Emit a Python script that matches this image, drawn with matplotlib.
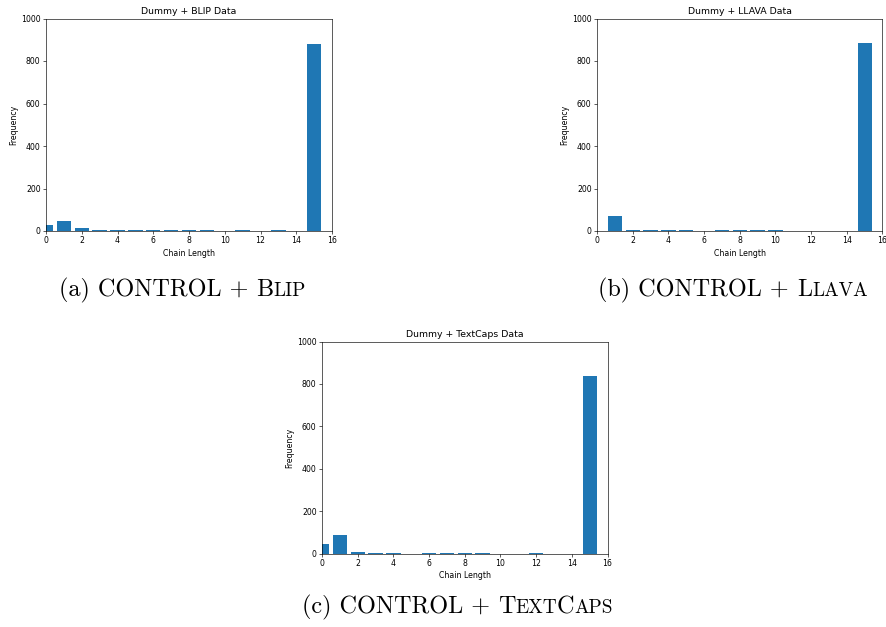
import matplotlib
matplotlib.use("Agg")
import matplotlib.pyplot as plt
from matplotlib.offsetbox import TextArea, HPacker, AnchoredOffsetbox

chain_lengths = list(range(16))
blip_counts = [30, 47, 14, 4, 4, 4, 4, 4, 4, 7, 0, 6, 0, 4, 0, 878]
llava_counts = [0, 70, 7, 5, 6, 4, 0, 4, 4, 6, 4, 0, 0, 0, 0, 887]
textcaps_counts = [43, 86, 8, 4, 4, 0, 4, 4, 4, 4, 0, 0, 4, 0, 0, 835]

titles = ["Dummy + BLIP Data", "Dummy + LLAVA Data", "Dummy + TextCaps Data"]
xticks = [0, 2, 4, 6, 8, 10, 12, 14, 16]
yticks = [0, 200, 400, 600, 800, 1000]
captions = [("(a) CONTROL + ", "B", "LIP"),
            ("(b) CONTROL + ", "L", "LAVA"),
            ("(c) CONTROL + ", "T", "EXT", "C", "APS")]

W, H = 886, 627
fig = plt.figure(figsize=(W / 100, H / 100), dpi=100)

def rect(l, t, r, b):
    return [l / W, 1 - b / H, (r - l) / W, (b - t) / H]

rects = [rect(46, 18.5, 332, 231), rect(597, 18.5, 882.5, 231), rect(322, 341.5, 607.5, 553.5)]
data = [blip_counts, llava_counts, textcaps_counts]

s = 0.56
for r, counts, title in zip(rects, data, titles):
    ax = fig.add_axes(r)
    ax.bar(chain_lengths, counts, width=0.8, color="#1f77b4")
    ax.set_xlim(0, 16)
    ax.set_ylim(0, 1000)
    ax.set_xticks(xticks)
    ax.set_yticks(yticks)
    ax.tick_params(labelsize=10 * s, length=3.5 * s, width=0.8 * s, pad=3.5 * s)
    for sp in ax.spines.values():
        sp.set_linewidth(0.8 * s)
    ax.set_title(title, fontsize=12 * s, pad=6 * s)
    ax.set_xlabel("Chain Length", fontsize=10 * s, labelpad=4 * s)
    ax.set_ylabel("Frequency", fontsize=10 * s, labelpad=4 * s)

big = 17.4
small = big * 0.8
cap_font = "cmr10"

def caption(parts, cx, baseline_px):
    areas = []
    for i, p in enumerate(parts):
        size = big if (i == 0 or (p.isupper() and len(p) == 1)) else small
        areas.append(TextArea(p, textprops=dict(fontsize=size, family=cap_font)))
    box = HPacker(children=areas, align="baseline", pad=0, sep=0)
    ab = AnchoredOffsetbox(loc="lower center", child=box, pad=0, borderpad=0,
                           frameon=False, bbox_to_anchor=(cx / W, 1 - (baseline_px + 6) / H),
                           bbox_transform=fig.transFigure)
    fig.add_artist(ab)

caption(captions[0], 182.5, 297)
caption(captions[1], 733, 297)
caption(captions[2], 457.5, 614)

fig.savefig("out.png", dpi=100)
